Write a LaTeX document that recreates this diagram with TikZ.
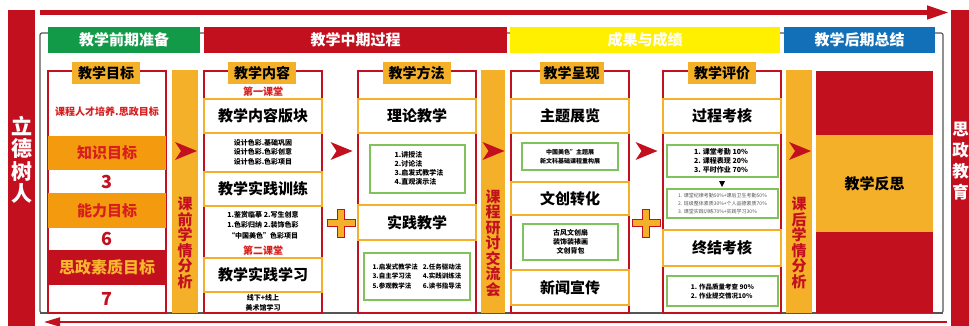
\documentclass[tikz,border=0pt]{standalone}
\usepackage{fontspec}
\setmainfont{Noto Sans CJK SC}
\usetikzlibrary{arrows.meta}
\definecolor{cred}{HTML}{C3101F}
\definecolor{corg}{HTML}{F5B02A}
\definecolor{cband}{HTML}{F39A0E}
\definecolor{cgreen}{HTML}{129A48}
\definecolor{cyel}{HTML}{FFF000}
\definecolor{cblue}{HTML}{1270B8}
\definecolor{cgbox}{HTML}{80C25C}
\definecolor{cgray}{HTML}{555555}
\definecolor{ctred}{HTML}{D81E1E}
\definecolor{ctorg}{HTML}{F8B62D}
\newcommand\fsz[2]{\fontsize{#1}{#2}\selectfont}
\begin{document}
\begin{tikzpicture}[x=1pt,y=-1pt,
  hdr/.style={minimum height=26pt, inner sep=0, text=white, font=\fsz{15}{15}\bfseries},
  colbox/.style={draw=cred, line width=1.5pt, fill=white, minimum width=118pt, minimum height=242pt, inner sep=0},
  lbl/.style={fill=corg, minimum height=22pt, minimum width=68pt, inner sep=0, font=\fsz{14}{14}\bfseries},
  obox/.style={draw=corg, line width=2pt, fill=white, minimum width=118pt, minimum height=34pt, inner sep=0, font=\fsz{15}{15}\bfseries},
  gbox/.style={draw=cgbox, line width=1.5pt, inner sep=0},
  sm/.style={font=\fsz{7}{9.5}\bfseries, align=center, inner sep=0},
  vbar/.style={fill=corg, inner sep=0, minimum height=243pt},
  vtxt/.style={text=cred, font=\fsz{15}{15.5}\bfseries, align=center, inner sep=0},
  band/.style={minimum width=118pt, inner sep=0},
  num/.style={text=cred, font=\fsz{18}{18}\bfseries, inner sep=0},
  chev/.style={fill=cred},
  plus/.style={draw=cred, fill=corg, line width=0.8pt}
]
\useasboundingbox (0,0) rectangle (969,326);
% side bars
\node[fill=cred, minimum width=27pt, minimum height=316pt, inner sep=0] (lbar) at (21.5,168) {};
\node[text=white, font=\fsz{21}{22.5}\bfseries, align=center, inner sep=0] (ltxt) at (21.5,160) {立\\德\\树\\人};
\node[fill=cred, minimum width=24pt, minimum height=316pt, inner sep=0] (rbar) at (963,168) {};
\node[text=white, font=\fsz{16.5}{21}\bfseries, align=center, inner sep=0] (rtxt) at (960.5,161) {思\\政\\教\\育};
% top and bottom arrows
\coordinate (tl) at (40,12.5);
\coordinate (tr) at (949,12.5);
\draw[cred, line width=4.5pt, -{Triangle[length=22pt,width=13pt]}] (tl) -- (tr);
\coordinate (bl) at (44,322);
\coordinate (br) at (947,322);
\draw[cred, line width=2pt, {Triangle[length=16pt,width=9pt]}-] (bl) -- (br);
% gray frame
\draw[cgray, line width=1.2pt, rounded corners=2pt] (40,33) rectangle (943,313);
\draw[cgray, line width=2.5pt] (40,313) -- (943,313);
% headers
\node[hdr, fill=cgreen, minimum width=152pt] (h1) at (124,40) {教学前期准备};
\node[hdr, fill=cred, minimum width=303pt] (h2) at (355.5,40) {教学中期过程};
\node[hdr, fill=cyel, minimum width=270pt] (h3) at (645,40) {成果与成绩};
\node[hdr, fill=cblue, minimum width=151pt] (h4) at (859.5,40) {教学后期总结};
% ---------- column 1
\node[colbox] (c1) at (107,192) {};
\node[lbl] (c1l) at (106,73) {教学目标};
\node[text=ctred, font=\fsz{10}{10}\bfseries, inner sep=0] (c1t) at (107,112) {课程人才培养.思政目标};
\node[band, fill=cband, minimum height=34pt, text=ctred, font=\fsz{15}{15}\bfseries] (b1) at (107,153) {知识目标};
\node[num] (n1) at (107,181.5) {3};
\node[band, fill=cband, minimum height=35pt, text=ctred, font=\fsz{15}{15}\bfseries] (b2) at (107,210.5) {能力目标};
\node[num] (n2) at (107,239) {6};
\node[band, fill=cred, minimum height=35pt, text=ctorg, font=\fsz{16}{16}\bfseries] (b3) at (107,267.5) {思政素质目标};
\node[num] (n3) at (107,299) {7};
% bar 1
\node[vbar, minimum width=26pt] (v1) at (185,191.5) {};
\node[vtxt] (v1t) at (185,243) {课\\前\\学\\情\\分\\析};
% ---------- column 2
\node[colbox] (c2) at (263,192) {};
\node[lbl] (c2l) at (262,73) {教学内容};
\node[text=ctred, font=\fsz{10}{10}\bfseries, inner sep=0] (c2a) at (263,92) {第一课堂};
\node[obox] (c2o1) at (263,116) {教学内容版块};
\node[sm] (c2s1) at (263,152) {设计色彩.基础巩固\\设计色彩.色彩创意\\设计色彩.色彩项目};
\node[obox] (c2o2) at (263,189) {教学实践训练};
\node[sm, font=\fsz{7}{10.5}\bfseries] (c2s2) at (263,225) {1.鉴赏临摹 2.写生创意\\1.色彩归纳 2.装饰色彩\\“中国美色”色彩项目};
\node[text=ctred, font=\fsz{10}{10}\bfseries, inner sep=0] (c2b) at (263,251) {第二课堂};
\node[obox] (c2o3) at (263,275) {教学实践学习};
\node[sm] (c2s3) at (263,303) {线下+线上\\美术馆学习};
% ---------- column 3
\node[colbox] (c3) at (417,192) {};
\node[lbl] (c3l) at (416.5,73) {教学方法};
\node[obox] (c3o1) at (417,116) {理论教学};
\node[gbox, minimum width=95pt, minimum height=48pt] (c3g1) at (417.5,169) {};
\node[sm, align=left, font=\fsz{7}{9}\bfseries] (c3g1t) at (419,168) {1.讲授法\\2.讨论法\\3.启发式教学法\\4.直观演示法};
\node[obox, minimum height=35pt] (c3o2) at (417,222.5) {实践教学};
\node[gbox, minimum width=106pt, minimum height=47pt] (c3g2) at (417,276.5) {};
\node[sm, font=\fsz{6.5}{9.5}\bfseries] (c3g2t) at (417,277) {\begin{tabular}{@{}l@{\hspace{5pt}}l@{}}1.启发式教学法 & 2.任务驱动法\\3.自主学习法 & 4.实践训练法\\5.参观教学法 & 6.读书指导法\end{tabular}};
% bar 2
\node[vbar, minimum width=24pt] (v2) at (493,191.5) {};
\node[vtxt] (v2t) at (493,243) {课\\程\\研\\讨\\交\\流\\会};
% ---------- column 4
\node[colbox] (c4) at (570,192) {};
\node[lbl, minimum width=64pt] (c4l) at (571.5,73) {教学呈现};
\node[obox] (c4o1) at (570,116) {主题展览};
\node[gbox, minimum width=96pt, minimum height=27pt] (c4g1) at (570,156.5) {};
\node[sm, font=\fsz{6}{9}\bfseries] (c4g1t) at (570,156.5) {中国美色”主题展\\新文科基础课程重构展};
\node[obox, minimum height=33pt] (c4o2) at (570,198.5) {文创转化};
\node[gbox, minimum width=95pt, minimum height=36pt] (c4g2) at (570.5,242) {};
\node[sm, font=\fsz{7}{9}\bfseries] (c4g2t) at (570.5,242) {古风文创扇\\装饰装裱画\\文创背包};
\node[obox, minimum height=35pt] (c4o3) at (570,287.5) {新闻宣传};
% ---------- column 5
\node[colbox] (c5) at (722,192) {};
\node[lbl] (c5l) at (722,73) {教学评价};
\node[obox] (c5o1) at (722,116) {过程考核};
\node[gbox, minimum width=111pt, minimum height=32pt] (c5g1) at (722.5,161) {};
\node[sm, align=left, font=\fsz{7}{9}\bfseries] (c5g1t) at (721,161) {1. 课堂考勤 10\%\\2. 课程表现 20\%\\3. 平时作业 70\%};
\fill[black] (719,181) -- (725,181) -- (722,187) -- cycle;
\node[gbox, minimum width=111pt, minimum height=29pt] (c5g2) at (722.5,203.5) {};
\node[sm, align=left, text=cgray, font=\fsz{5}{8}] (c5g2t) at (722.5,203.5) {1. 课堂纪律考勤50\%+课后卫生考勤50\%\\2. 班级整体素质30\%+个人品德素质70\%\\3. 课堂实践训练70\%+实践学习30\%};
\node[obox, minimum height=36pt] (c5o2) at (722,248) {终结考核};
\node[gbox, minimum width=111pt, minimum height=30pt] (c5g3) at (722.5,291) {};
\node[sm, align=left, font=\fsz{6.5}{9}\bfseries] (c5g3t) at (722.5,291.5) {1. 作品质量考查 90\%\\2. 作业提交情况10\%};
% bar 3
\node[vbar, minimum width=26pt] (v3) at (799,191.5) {};
\node[vtxt] (v3t) at (799,243) {课\\后\\学\\情\\分\\析};
% ---------- column 6
\node[fill=cred, minimum width=117pt, minimum height=64pt, inner sep=0] (r1) at (874.5,103) {};
\node[fill=corg, minimum width=117pt, minimum height=97pt, inner sep=0, font=\fsz{15}{15}\bfseries] (r2) at (874.5,183.5) {教学反思};
\node[fill=cred, minimum width=117pt, minimum height=81pt, inner sep=0] (r3) at (874.5,272.5) {};
% chevrons
\foreach \cx/\cy in {186/151, 341.5/151, 493.5/151, 646.5/151, 800/151}
  \fill[chev, shift={(\cx,\cy)}] (-11,-9) -- (11,0) -- (-11,9) -- (-5,0) -- cycle;
% plus signs
\foreach \cx/\cy in {341/223, 646/223}
  \draw[plus, shift={(\cx,\cy)}] (-3.5,-14) -- (3.5,-14) -- (3.5,-3.5) -- (14,-3.5) -- (14,3.5) -- (3.5,3.5) -- (3.5,14) -- (-3.5,14) -- (-3.5,3.5) -- (-14,3.5) -- (-14,-3.5) -- (-3.5,-3.5) -- cycle;
\end{tikzpicture}
\end{document}
